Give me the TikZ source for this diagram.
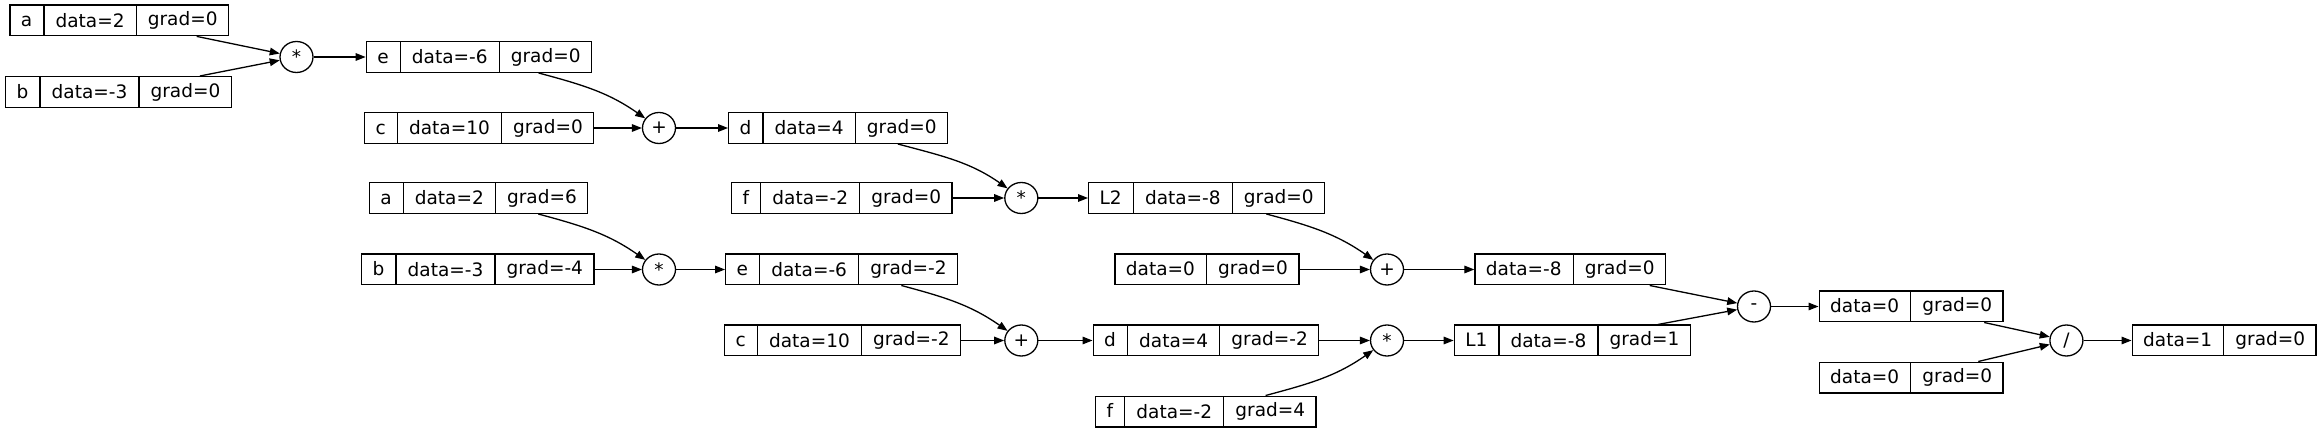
\documentclass[tikz,border=0pt]{standalone}
\usepackage{fontspec}
\setmainfont{DejaVu Sans}
\usetikzlibrary{shapes.multipart,shapes.geometric,arrows.meta,positioning}

\begin{document}
\begin{tikzpicture}
		[x=0.5pt,y=-0.5pt,
		value/.style={rectangle split,rectangle split horizontal,rectangle split parts=3,draw,line width=0.65pt,inner xsep=5.5pt,inner ysep=0pt,text height=10.85pt,text depth=4.5pt,anchor=west,font=\fontsize{9.25}{11}\selectfont},
		plain/.style={value,rectangle split parts=2},
		op/.style={ellipse,draw,line width=0.65pt,inner sep=0pt,minimum width=16.5pt,minimum height=15.5pt,font=\fontsize{9.25}{11}\selectfont},
		wire/.style={draw,line width=0.65pt,-{Triangle[length=5pt,width=3.8pt]}},
		dip/.style={out=-15,in=145},
		rise/.style={out=15,in=-145}]
		\useasboundingbox (0,0) rectangle (2321,432);

		% first pass, grads still zero
		\node [value] (a1) at (9.3,20.4) {a \nodepart{two} data=2 \nodepart{three} grad=0};
		\node [value] (b1) at (5,92) {b \nodepart{two} data=-3 \nodepart{three} grad=0};
		\node [op] (mul1) at (296.5,57) {*};
		\node [value] (e1) at (365.6,57) {e \nodepart{two} data=-6 \nodepart{three} grad=0};
		\node [value] (c1) at (364,128) {c \nodepart{two} data=10 \nodepart{three} grad=0};
		\node [op] (add1) at (659,128) {+};
		\node [value] (d1) at (728,128) {d \nodepart{two} data=4 \nodepart{three} grad=0};
		\node [value] (f1) at (731,198) {f \nodepart{two} data=-2 \nodepart{three} grad=0};
		\node [op] (mul2) at (1021.3,198) {*};
		\node [value] (L2) at (1088,198) {L2 \nodepart{two} data=-8 \nodepart{three} grad=0};

		% second pass, after backward
		\node [value] (a2) at (368.6,198) {a \nodepart{two} data=2 \nodepart{three} grad=6};
		\node [value] (b2) at (361,269.5) {b \nodepart{two} data=-3 \nodepart{three} grad=-4};
		\node [op] (mul3) at (659,269.5) {*};
		\node [value] (e2) at (725,269.5) {e \nodepart{two} data=-6 \nodepart{three} grad=-2};
		\node [value] (c2) at (724,340.5) {c \nodepart{two} data=10 \nodepart{three} grad=-2};
		\node [op] (add3) at (1021.3,340.5) {+};
		\node [value] (d2) at (1092.5,340.5) {d \nodepart{two} data=4 \nodepart{three} grad=-2};
		\node [value] (f2) at (1095,411.5) {f \nodepart{two} data=-2 \nodepart{three} grad=4};
		\node [op] (mul4) at (1387,340.5) {*};
		\node [value] (L1) at (1453.6,340.5) {L1 \nodepart{two} data=-8 \nodepart{three} grad=1};

		% combining both
		\node [plain] (k0) at (1114.3,269.5) {data=0 \nodepart{two} grad=0};
		\node [op] (add2) at (1387,269.5) {+};
		\node [plain] (s) at (1474.3,269.5) {data=-8 \nodepart{two} grad=0};
		\node [op] (sub) at (1754,306.5) {-};
		\node [plain] (z1) at (1818.5,306.5) {data=0 \nodepart{two} grad=0};
		\node [plain] (z2) at (1818.5,377.5) {data=0 \nodepart{two} grad=0};
		\node [op] (div) at (2066.4,340.5) {/};
		\node [plain] (out) at (2131.5,340.5) {data=1 \nodepart{two} grad=0};

		\draw [wire] (a1) -- (mul1);
		\draw [wire] (b1) -- (mul1);
		\draw [wire] (mul1) -- (e1);
		\draw [wire] (e1) to [dip] (add1);
		\draw [wire] (c1) -- (add1);
		\draw [wire] (add1) -- (d1);
		\draw [wire] (d1) to [dip] (mul2);
		\draw [wire] (f1) -- (mul2);
		\draw [wire] (mul2) -- (L2);
		\draw [wire] (L2) to [dip] (add2);

		\draw [wire] (a2) to [dip] (mul3);
		\draw [wire] (b2) -- (mul3);
		\draw [wire] (mul3) -- (e2);
		\draw [wire] (e2) to [dip] (add3);
		\draw [wire] (c2) -- (add3);
		\draw [wire] (add3) -- (d2);
		\draw [wire] (d2) -- (mul4);
		\draw [wire] (f2) to [rise] (mul4);
		\draw [wire] (mul4) -- (L1);

		\draw [wire] (k0) -- (add2);
		\draw [wire] (add2) -- (s);
		\draw [wire] (s) -- (sub);
		\draw [wire] (L1) -- (sub);
		\draw [wire] (sub) -- (z1);
		\draw [wire] (z1) -- (div);
		\draw [wire] (z2) -- (div);
		\draw [wire] (div) -- (out);

	\end{tikzpicture}
\end{document}
